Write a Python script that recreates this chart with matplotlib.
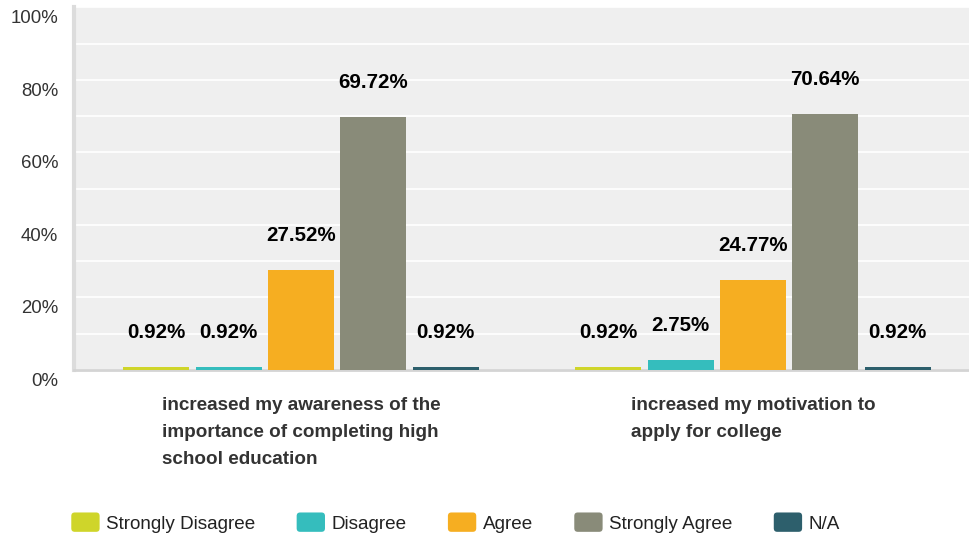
import matplotlib
matplotlib.use("Agg")
import matplotlib.pyplot as plt
import matplotlib.transforms as mtransforms
from matplotlib.patches import FancyBboxPatch
from matplotlib.legend_handler import HandlerPatch
from matplotlib.patches import Patch
import numpy as np

plt.rcParams['font.family'] = ['Liberation Sans', 'DejaVu Sans']

categories = [
    "increased my awareness of the\nimportance of completing high\nschool education",
    "increased my motivation to\napply for college",
]
series_names = ["Strongly Disagree", "Disagree", "Agree", "Strongly Agree", "N/A"]
strongly_disagree = [0.92, 0.92]
disagree = [0.92, 2.75]
agree = [27.52, 24.77]
strongly_agree = [69.72, 70.64]
na = [0.92, 0.92]
series_values = [strongly_disagree, disagree, agree, strongly_agree, na]
colors = ["#cfd52a", "#35bdbd", "#f6ae21", "#898b79", "#2d5f6c"]
yticks = [0, 20, 40, 60, 80, 100]
ytick_labels = ["0%", "20%", "40%", "60%", "80%", "100%"]

W, H = 969, 540
fig = plt.figure(figsize=(W / 100, H / 100), dpi=100)
ax = fig.add_axes([74 / W, (H - 370) / H, (W - 74) / W, (370 - 7.4) / H])
ax.set_facecolor("#efefef")

x = np.arange(len(categories))
bw = 0.146
step = 0.160
for i, (name, vals, c) in enumerate(zip(series_names, series_values, colors)):
    pos = x + (i - 2) * step
    bars = ax.bar(pos, vals, width=bw, color=c, label=name, zorder=3)
    for b, v in zip(bars, vals):
        ax.annotate(f"{v:.2f}%", (b.get_x() + b.get_width() / 2, v),
                    xytext=(0, 20.9), textcoords="offset points",
                    ha="center", va="baseline", fontsize=14.8,
                    fontweight="bold", color="black", zorder=4)

ax.set_xlim(-0.502, 1.478)
ax.set_ylim(0, 100)
ax.set_yticks(yticks)
ax.set_yticklabels(ytick_labels)
ax.set_yticks(np.arange(0, 101, 10), minor=True)
ax.grid(axis="y", which="both", color="white", linewidth=1.2, zorder=1)
ax.set_axisbelow(True)
ax.tick_params(axis="y", which="both", length=0, pad=11.5, labelsize=13.4, labelcolor="#333333")
ax.tick_params(axis="x", length=0)
ax.set_xticks([])
off = mtransforms.ScaledTranslation(0, -9.5 / 100, fig.dpi_scale_trans)
for lab in ax.get_yticklabels():
    lab.set_transform(lab.get_transform() + off)

for s in ["top", "right"]:
    ax.spines[s].set_visible(False)
ax.spines["left"].set_color("#dcdcdc")
ax.spines["left"].set_linewidth(3)
ax.spines["bottom"].set_color("#d4d4d4")
ax.spines["bottom"].set_linewidth(2)

for xi, cat in zip(x, categories):
    ax.annotate(cat, (xi, 0), xytext=(0, -(397.5 - 370) * 0.72), textcoords="offset points",
                ha="center", va="top", multialignment="left", fontsize=13.6,
                fontweight="bold", color="#333333", linespacing=1.75,
                annotation_clip=False)


class RoundHandler(HandlerPatch):
    def create_artists(self, legend, orig_handle, xdescent, ydescent, width, height, fontsize, trans):
        p = FancyBboxPatch((-xdescent, -ydescent), width, height,
                           boxstyle="round,pad=0,rounding_size=2.5",
                           facecolor=orig_handle.get_facecolor(), edgecolor="none",
                           transform=trans)
        return [p]


handles = [Patch(facecolor=c) for c in colors]
leg = fig.legend(handles, series_names, loc="center", bbox_to_anchor=(455.5 / W, (H - 522.5) / H),
                 ncol=5, frameon=False, fontsize=13.6, handlelength=1.5, handleheight=1.2,
                 handletextpad=0.33, columnspacing=2.2,
                 handler_map={Patch: RoundHandler()})
for t in leg.get_texts():
    t.set_color("#222222")

fig.savefig("out.png", dpi=100, facecolor="white")
